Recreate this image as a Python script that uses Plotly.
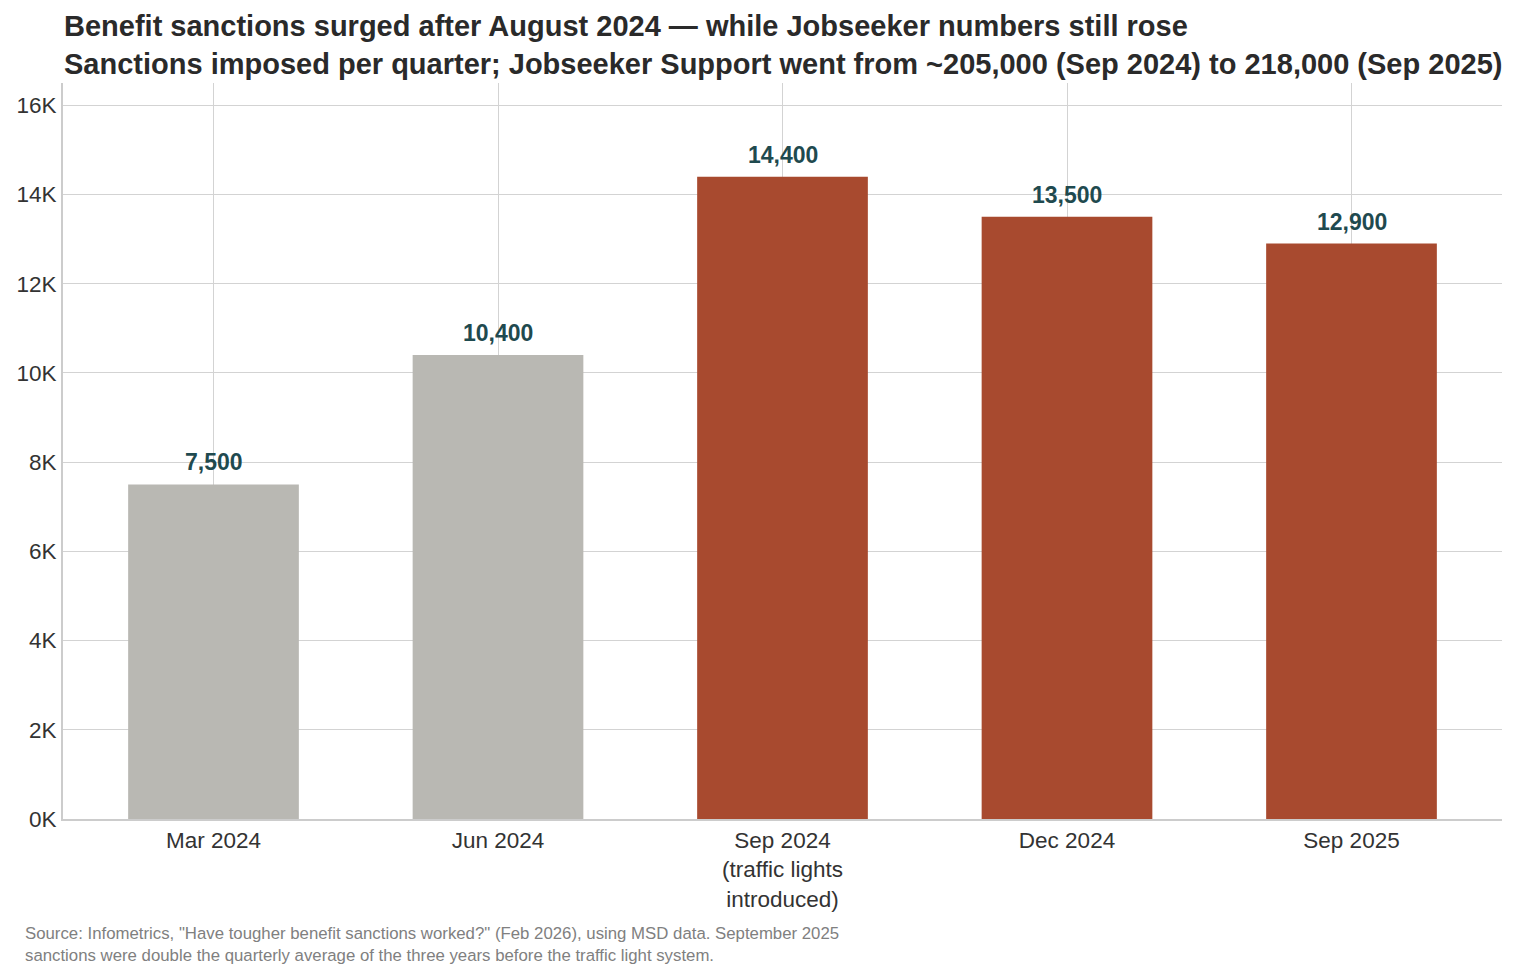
import plotly.graph_objects as go

categories = ["Mar 2024", "Jun 2024", "Sep 2024<br>(traffic lights<br>introduced)", "Dec 2024", "Sep 2025"]
sanctions = [7500, 10400, 14400, 13500, 12900]
bar_colors = ["#b9b8b3", "#b9b8b3", "#a84a2f", "#a84a2f", "#a84a2f"]
label_text = ["7,500", "10,400", "14,400", "13,500", "12,900"]
y_tickvals = [0, 2000, 4000, 6000, 8000, 10000, 12000, 14000, 16000]
y_ticktext = ["0K", "2K", "4K", "6K", "8K", "10K", "12K", "14K", "16K"]

title_text = ("<b>Benefit sanctions surged after August 2024 — while Jobseeker numbers still rose<br>"
              "Sanctions imposed per quarter; Jobseeker Support went from ~205,000 (Sep 2024) to 218,000 (Sep 2025)</b>")
source_text = ("Source: Infometrics, \"Have tougher benefit sanctions worked?\" (Feb 2026), using MSD data. September 2025<br>"
               "sanctions were double the quarterly average of the three years before the traffic light system.")

fig = go.Figure()
fig.add_trace(go.Bar(
    x=categories,
    y=sanctions,
    marker=dict(color=bar_colors, line=dict(width=0)),
    width=0.6,
    hoverinfo="skip",
))

label_annotations = [
    dict(
        x=cat, y=val, xref="x", yref="y",
        text=f"<b>{lab}</b>",
        showarrow=False,
        xanchor="center", yanchor="bottom",
        yshift=7,
        font=dict(family="Liberation Sans", size=23, color="#1f4a4f"),
    )
    for cat, val, lab in zip(categories, sanctions, label_text)
]

fig.update_layout(
    width=1518,
    height=979,
    margin=dict(l=63, r=16, t=83, b=160),
    paper_bgcolor="white",
    plot_bgcolor="white",
    font=dict(family="Liberation Sans", size=22, color="#333333"),
    showlegend=False,
    title=dict(
        text=title_text,
        x=64 / 1518,
        xanchor="left",
        xref="container",
        y=1 - 36 / 979,
        yanchor="top",
        yref="container",
        font=dict(family="Liberation Sans", size=29, color="#2a2a2a"),
    ),
    xaxis=dict(
        range=[-0.529, 4.529],
        showgrid=True,
        gridcolor="#d3d3d3",
        gridwidth=1,
        showline=True,
        linecolor="#cccccc",
        linewidth=2,
        ticks="",
        tickfont=dict(size=22.5, color="#333333"),
    ),
    yaxis=dict(
        range=[0, 16500],
        tickvals=y_tickvals,
        ticktext=y_ticktext,
        showgrid=True,
        gridcolor="#d3d3d3",
        gridwidth=1,
        showline=True,
        linecolor="#cccccc",
        linewidth=2,
        zeroline=False,
        ticks="",
        tickfont=dict(size=22.5, color="#333333"),
    ),
    annotations=label_annotations + [dict(
        text=source_text,
        xref="paper",
        yref="paper",
        x=(23 - 63) / 1439,
        y=-(922 - 819) / 736,
        xanchor="left",
        yanchor="top",
        align="left",
        showarrow=False,
        font=dict(family="Liberation Sans", size=16.8, color="#808080"),
    )],
)

fig.write_html("out.html")
